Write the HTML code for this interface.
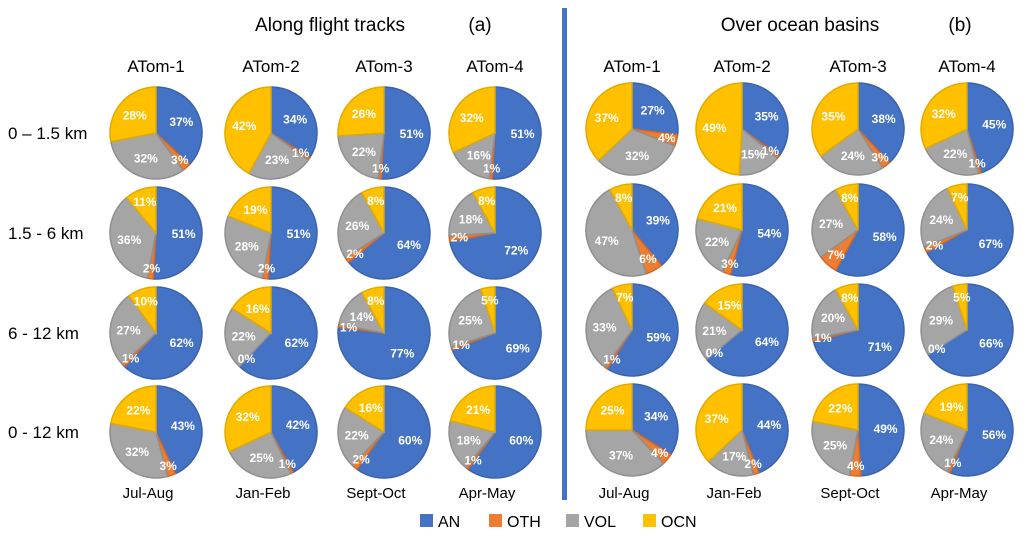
<!DOCTYPE html>
<html><head><meta charset="utf-8"><style>
body{margin:0;background:#fff;}
svg{display:block;font-family:"Liberation Sans",sans-serif;}
</style></head><body>
<svg id="c" width="1029" height="541">
<g font-size="19" fill="#000">
<text x="330" y="31" text-anchor="middle">Along flight tracks</text>
<text x="480" y="31" text-anchor="middle">(a)</text>
<text x="800" y="31" text-anchor="middle">Over ocean basins</text>
<text x="960" y="31" text-anchor="middle">(b)</text>
</g>
<rect x="562" y="8" width="5" height="492" fill="#4472C4"/>
<g id="pies"></g>
<g id="labels"></g>
<g font-size="16">
<rect x="420" y="514" width="13" height="13" fill="#4472C4"/>
<text x="438" y="527">AN</text>
<rect x="489" y="514" width="13" height="13" fill="#ED7D31"/>
<text x="507" y="527">OTH</text>
<rect x="566" y="514" width="13" height="13" fill="#A5A5A5"/>
<text x="584" y="527">VOL</text>
<rect x="643" y="514" width="13" height="13" fill="#FFC000"/>
<text x="661" y="527">OCN</text>
</g>
</svg>
<script>
const campaigns=["ATom-1","ATom-2","ATom-3","ATom-4"];
const seasons=["Jul-Aug","Jan-Feb","Sept-Oct","Apr-May"];
const altitudes=["0 – 1.5 km","1.5 - 6 km","6 - 12 km","0 - 12 km"];
const categories=["AN","OTH","VOL","OCN"];
const flightValues=[
 [[37,3,32,28],[34,1,23,42],[51,1,22,26],[51,1,16,32]],
 [[51,2,36,11],[51,2,28,19],[64,2,26,8],[72,2,18,8]],
 [[62,1,27,10],[62,0,22,16],[77,1,14,8],[69,1,25,5]],
 [[43,3,32,22],[42,1,25,32],[60,2,22,16],[60,1,18,21]]];
const oceanValues=[
 [[27,4,32,37],[35,1,15,49],[38,3,24,35],[45,1,22,32]],
 [[39,6,47,8],[54,3,22,21],[58,7,27,8],[67,2,24,7]],
 [[59,1,33,7],[64,0,21,15],[71,1,20,8],[66,0,29,5]],
 [[34,4,37,25],[44,2,17,37],[49,4,25,22],[56,1,24,19]]];

const NS="http://www.w3.org/2000/svg";
const svg=document.getElementById('c');
const g=document.getElementById('pies');
const lg=document.getElementById('labels');
const fills=["#4472C4","#ED7D31","#A5A5A5","#FFC000"];
const strokes=["#3A63AE","#D0692A","#8F8F8F","#E2AA00"];
const R=46;
function mk(tag,attrs){const e=document.createElementNS(NS,tag);for(const k in attrs)e.setAttribute(k,attrs[k]);return e;}
function txt(x,y,s,size,anchor,extra){const t=mk('text',Object.assign({x:x,y:y,'font-size':size,'text-anchor':anchor||'middle'},extra||{}));t.textContent=s;return t;}

function drawPie(cx,cy,vals,name){
  const grp=mk('g',{});
  
  
  const tot=vals.reduce((a,b)=>a+b,0);
  let a0=0;
  vals.forEach((v,i)=>{
    const a1=a0+v/tot*2*Math.PI;
    if(v>0){
      const x0=cx+R*Math.sin(a0),y0=cy-R*Math.cos(a0),x1=cx+R*Math.sin(a1),y1=cy-R*Math.cos(a1);
      const large=(a1-a0)>Math.PI?1:0;
      const p=mk('path',{d:`M${cx},${cy}L${x0},${y0}A${R},${R} 0 ${large} 1 ${x1},${y1}Z`,fill:fills[i],stroke:strokes[i],'stroke-width':1.5});
      
      
      grp.appendChild(p);
    }
    const am=(a0+a1)/2;
    const rr=v<5?0.78*R:(v<12?0.72*R:0.6*R);
    const t=txt(cx+rr*Math.sin(am),cy-rr*Math.cos(am)+4,v+'%',12,'middle',{fill:'#fff','font-weight':'bold'});
    
    
    lg.appendChild(t);
    a0=a1;
  });
  g.appendChild(grp);
}
const leftX=[156,271,384,495], leftY=[133,233,333,432];
const rightX=[632,742,858,967], rightY=[129,230,330,430];
for(let r=0;r<4;r++)for(let c=0;c<4;c++){
  drawPie(leftX[c],leftY[r],flightValues[r][c],'pie-flight-'+campaigns[c].toLowerCase()+'-row'+(r+1));
  drawPie(rightX[c],rightY[r],oceanValues[r][c],'pie-ocean-'+campaigns[c].toLowerCase()+'-row'+(r+1));
}
for(let c=0;c<4;c++){
  let t=txt(leftX[c],72,campaigns[c],17);
  
  
  svg.appendChild(t);
  t=txt(rightX[c],72,campaigns[c],17);
  
  
  svg.appendChild(t);
  t=txt(leftX[c]-8,498,seasons[c],15);
  
  
  svg.appendChild(t);
  t=txt(rightX[c]-8,498,seasons[c],15);
  
  
  svg.appendChild(t);
}
for(let r=0;r<4;r++){
  const t=txt(8,leftY[r]+6,altitudes[r],17,'start');
  
  
  svg.appendChild(t);
}
</script>
</body></html>
